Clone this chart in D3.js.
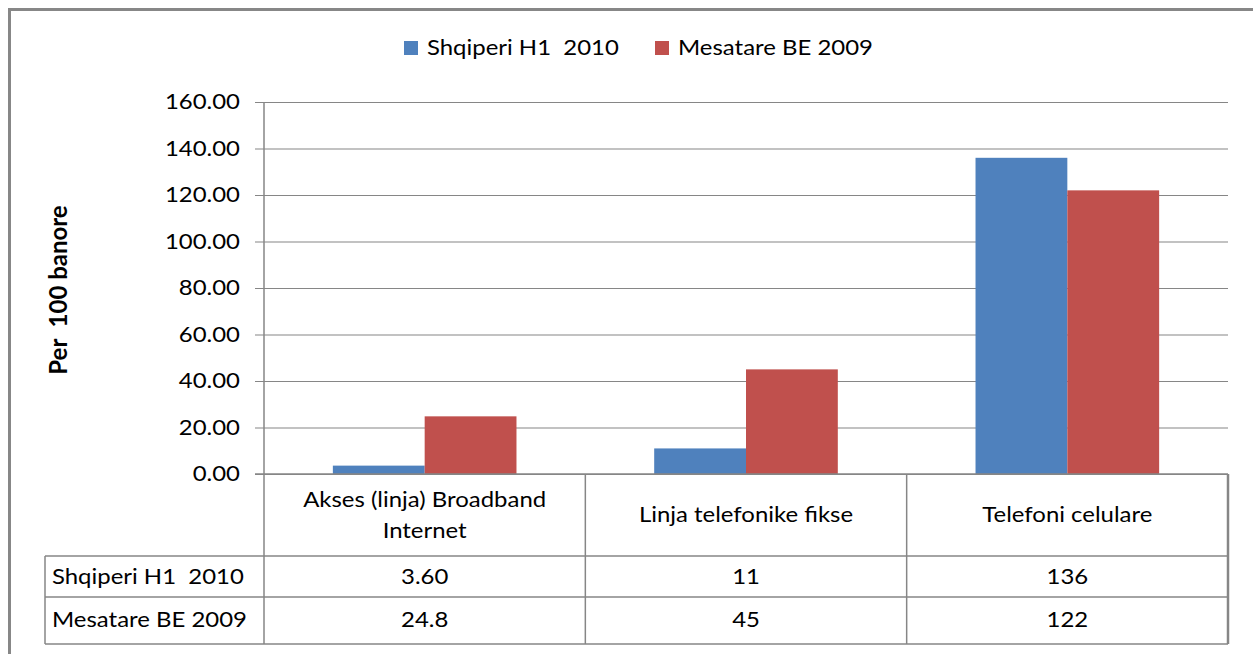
<!DOCTYPE html>
<html>
<head>
<meta charset="utf-8">
<script src="https://cdn.jsdelivr.net/npm/d3@7"></script>
<style>
  html, body { margin: 0; padding: 0; background: #fff; }
  svg { display: block; font-family: Lato, "Open Sans", sans-serif; }
  text { white-space: pre; }
</style>
</head>
<body>
<svg id="chart" width="1253" height="654"></svg>
<script>
const categories = ["Akses (linja) Broadband Internet", "Linja telefonike fikse", "Telefoni celulare"];
const categoryLines = [["Akses (linja) Broadband", "Internet"], ["Linja telefonike fikse"], ["Telefoni celulare"]];
const seriesNames = ["Shqiperi H1  2010", "Mesatare BE 2009"];
const shqiperi = [3.60, 11, 136];
const mesatare = [24.8, 45, 122];
const tableShqiperi = ["3.60", "11", "136"];
const tableMesatare = ["24.8", "45", "122"];
const yTicks = [0, 20, 40, 60, 80, 100, 120, 140, 160];
const colors = ["#4F81BD", "#C0504D"];
const yTitle = "Per  100 banore";

const svg = d3.select("#chart");
const gridColor = "#868686";
const fontSize = 21;
const sx = 1.14;

function addText(px, py, str, anchor) {
  return svg.append("text")
    .attr("transform", `translate(${px},${py}) scale(${sx},1)`)
    .attr("dy", "0.35em").attr("text-anchor", anchor)
    .attr("font-size", fontSize).attr("fill", "#000")
    .attr("xml:space", "preserve").text(str);
}

// outer frame
svg.append("line").attr("x1", 9).attr("x2", 1253).attr("y1", 9.5).attr("y2", 9.5)
  .attr("stroke", "#878787").attr("stroke-width", 3);
svg.append("line").attr("x1", 9.5).attr("x2", 9.5).attr("y1", 8).attr("y2", 654)
  .attr("stroke", "#878787").attr("stroke-width", 3);

const plotLeft = 264, plotRight = 1228, plotTop = 102, plotBottom = 474;
const y = d3.scaleLinear().domain([0, 160]).range([plotBottom, plotTop]);
const x = d3.scaleBand().domain(categories).range([plotLeft, plotRight]).paddingInner(0).paddingOuter(0);
const bw = x.bandwidth() / 3.5;
const xs = d3.scaleBand().domain(seriesNames).range([0.75 * bw, 2.75 * bw]);

// gridlines via d3 axis
const yAxis = d3.axisLeft(y).tickValues(yTicks).tickFormat("")
  .tickSize(-(plotRight - 255));
const gy = svg.append("g").attr("transform", `translate(255,0)`).call(yAxis);
gy.select(".domain").remove();
gy.selectAll(".tick line").attr("stroke", gridColor).attr("stroke-width", 1.2);

// tick labels
const fmt = d3.format(".2f");
yTicks.forEach(t => addText(240, y(t), fmt(t), "end"));

// bars
const series = [shqiperi, mesatare];
series.forEach((vals, si) => {
  svg.append("g").selectAll("rect").data(vals).join("rect")
    .attr("x", (d, i) => x(categories[i]) + xs(seriesNames[si]))
    .attr("width", xs.bandwidth())
    .attr("y", d => y(d))
    .attr("height", d => y(0) - y(d))
    .attr("fill", colors[si]);
});

// zero line on top
svg.append("line").attr("x1", 255).attr("x2", plotRight).attr("y1", y(0)).attr("y2", y(0))
  .attr("stroke", gridColor).attr("stroke-width", 1.5);

// y axis line, continues through table
svg.append("line").attr("x1", plotLeft).attr("x2", plotLeft).attr("y1", plotTop).attr("y2", 644)
  .attr("stroke", gridColor).attr("stroke-width", 1.5);

// data table
const tableLeft = 45;
const rowTops = [556, 597, 644];
rowTops.forEach(ry => {
  svg.append("line").attr("x1", tableLeft).attr("x2", plotRight).attr("y1", ry).attr("y2", ry)
    .attr("stroke", gridColor).attr("stroke-width", 1.5);
});
svg.append("line").attr("x1", tableLeft).attr("x2", tableLeft).attr("y1", 556).attr("y2", 644)
  .attr("stroke", gridColor).attr("stroke-width", 1.5);
categories.forEach((c, i) => {
  const xr = x(c) + x.bandwidth();
  svg.append("line").attr("x1", xr).attr("x2", xr).attr("y1", plotBottom).attr("y2", 644)
    .attr("stroke", gridColor).attr("stroke-width", i === 2 ? 2.5 : 1.5);
});

// category labels
categories.forEach((c, i) => {
  const lines = categoryLines[i];
  const cx = x(c) + x.bandwidth() / 2;
  const lh = 31;
  lines.forEach((t, li) => addText(cx, 515 + (li - (lines.length - 1) / 2) * lh, t, "middle"));
});

// table rows
const rowCenters = [577, 620];
const tableVals = [tableShqiperi, tableMesatare];
seriesNames.forEach((s, si) => {
  addText(52, rowCenters[si], s, "start");
  tableVals[si].forEach((v, i) => addText(x(categories[i]) + x.bandwidth() / 2, rowCenters[si], v, "middle"));
});

// legend
const legendX = [404, 655];
seriesNames.forEach((s, si) => {
  svg.append("rect").attr("x", legendX[si]).attr("y", 41).attr("width", 14).attr("height", 14)
    .attr("fill", colors[si]);
  addText(legendX[si] + 23, 48, s, "start");
});

// y title
svg.append("text").attr("transform", "translate(59,290) rotate(-90)")
  .attr("text-anchor", "middle").attr("dy", "0.35em").attr("xml:space", "preserve")
  .attr("font-size", 24).attr("font-weight", "bold").attr("fill", "#000").text(yTitle);
</script>
</body>
</html>
